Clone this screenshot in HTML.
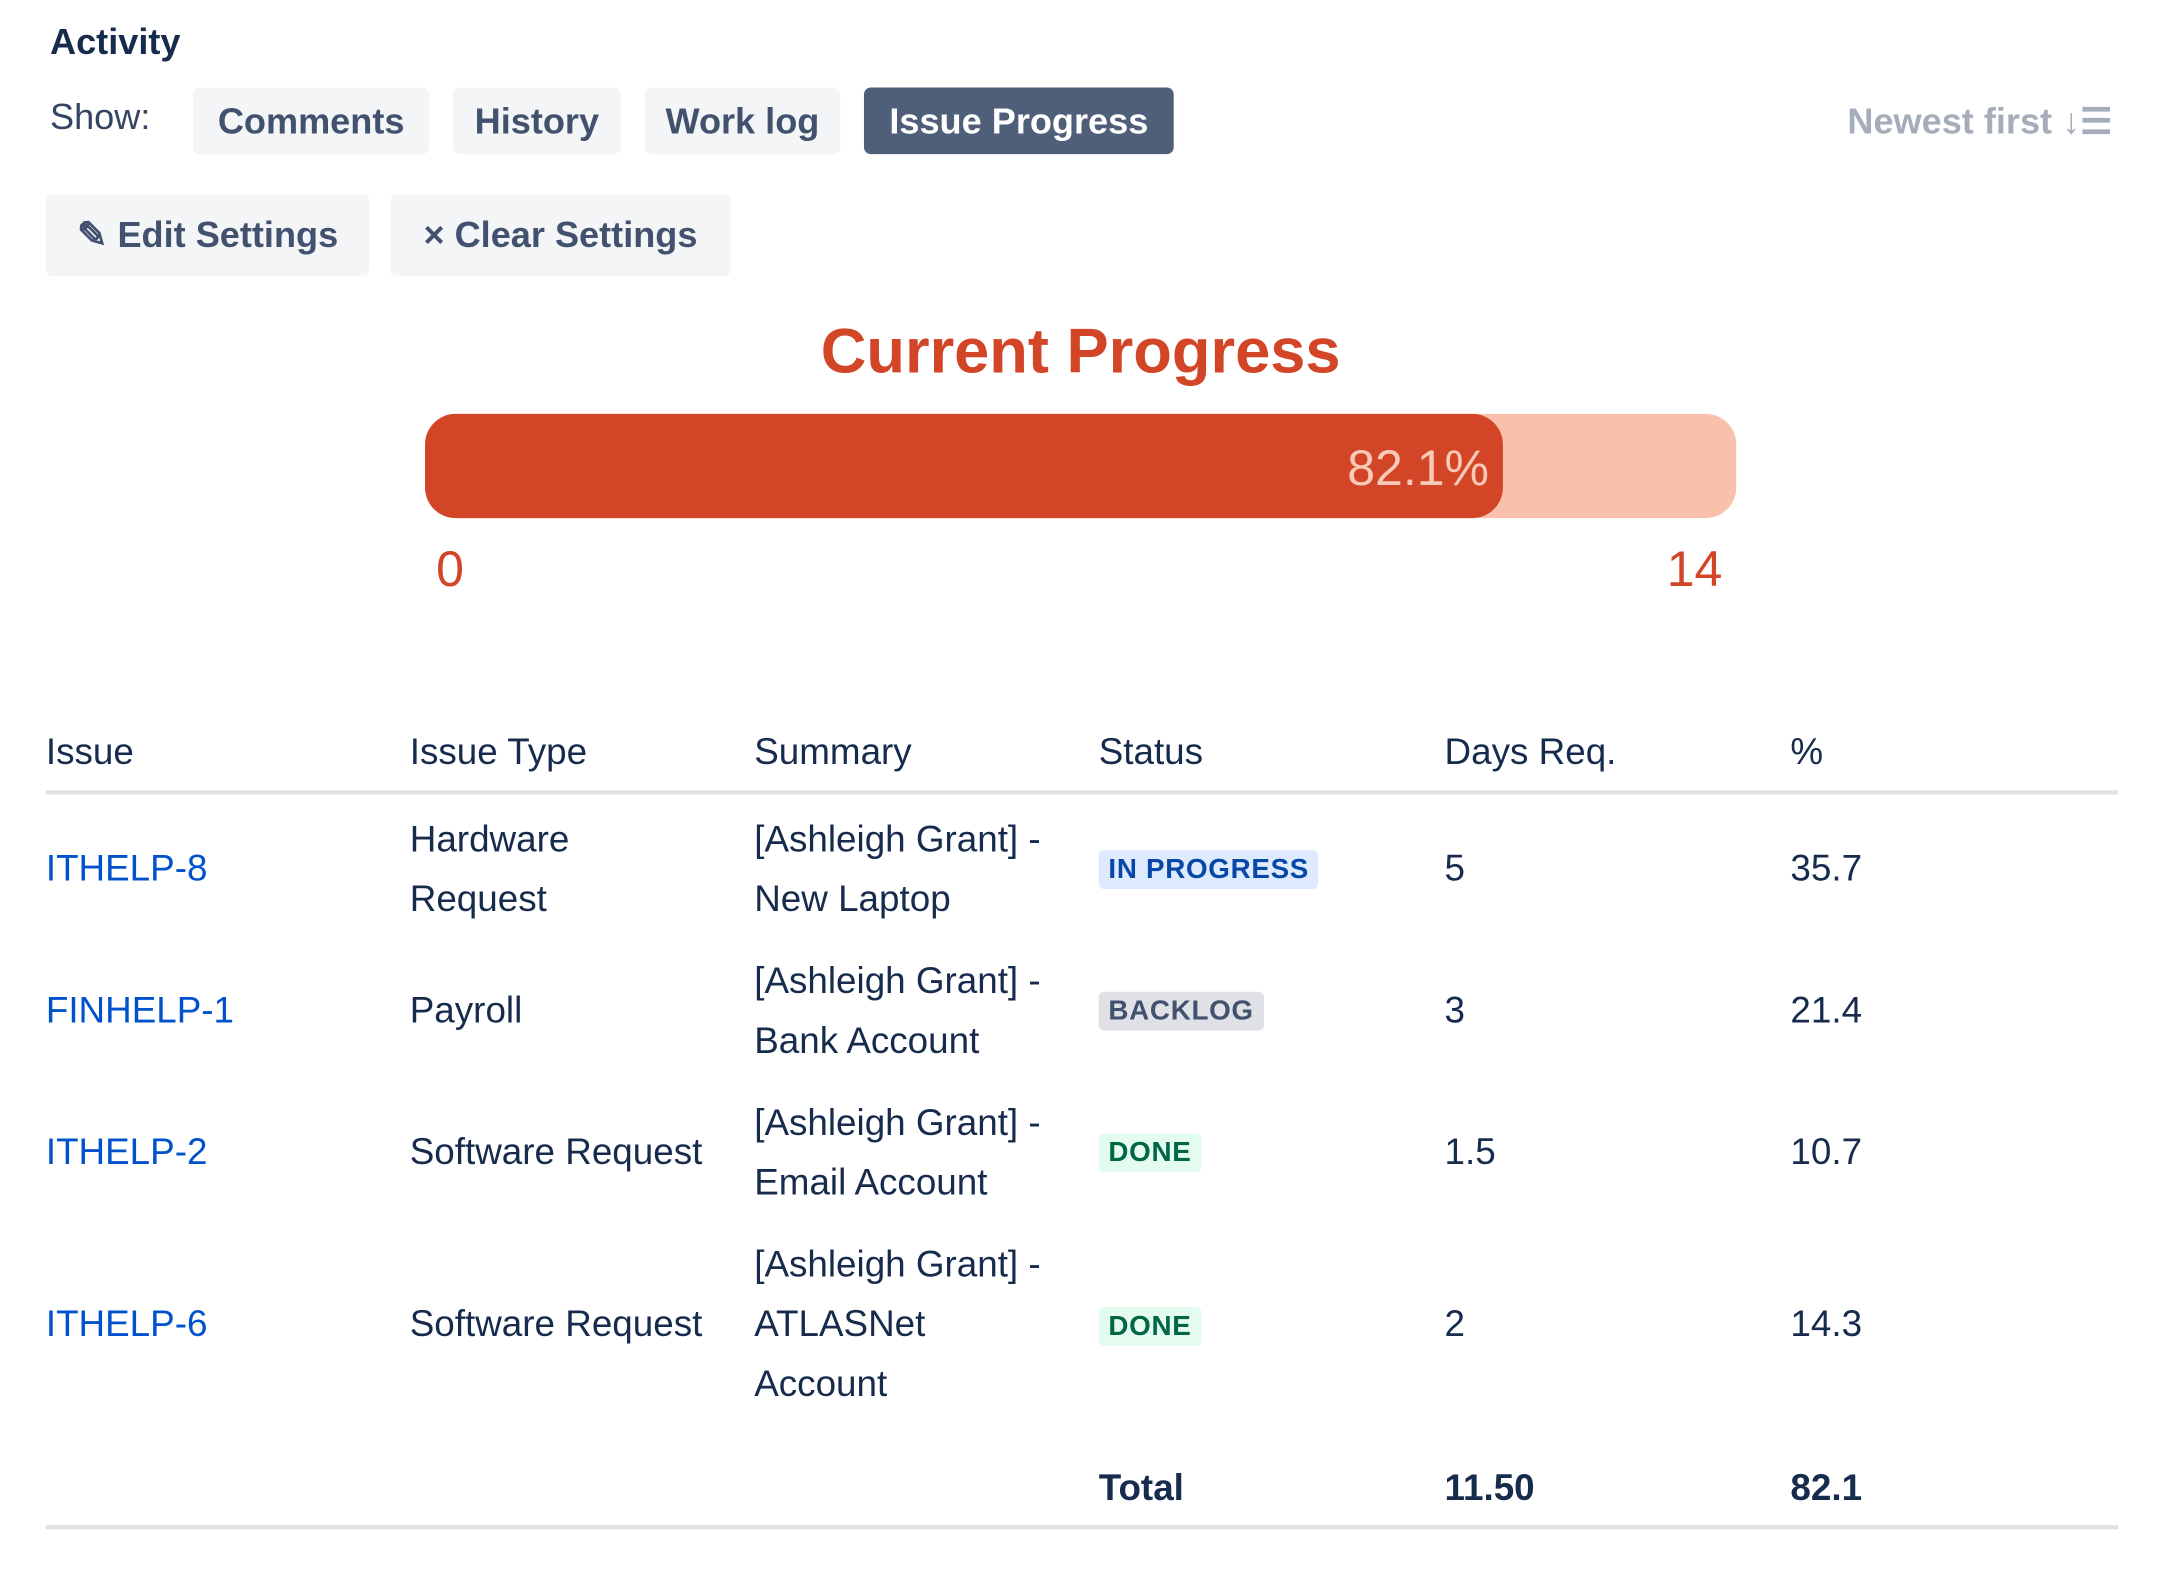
<!DOCTYPE html>
<html><head><meta charset="utf-8"><style>
html,body{margin:0;padding:0;background:#fff;overflow:hidden}
body{width:2178px;height:1576px}
#s{position:absolute;left:0;top:0;width:1570px;height:1135px;transform:scale(1.389);transform-origin:0 0;font-family:"Liberation Sans",sans-serif;color:#172b4d}
.a{position:absolute;white-space:nowrap}
.btn{position:absolute;background:#f4f5f7;border-radius:5px;color:#42526e;font-size:26px;font-weight:bold;display:flex;align-items:center;justify-content:center}
.t{position:absolute;font-size:26.5px;line-height:43px;white-space:nowrap;color:#172b4d}
.lk{color:#0052cc}
.lz{position:absolute;height:28px;border-radius:4px;font-weight:bold;font-size:20px;line-height:28px;padding:0 7px;letter-spacing:.5px}
</style></head><body><div id="s">
<div class="a" style="left:36px;top:15px;font-size:26px;font-weight:bold">Activity</div>
<div class="a" style="left:36px;top:69px;font-size:26px;color:#344563">Show:</div>
<div class="btn" style="left:139px;top:63px;width:170px;height:48px">Comments</div>
<div class="btn" style="left:326px;top:63px;width:121px;height:48px">History</div>
<div class="btn" style="left:464px;top:63px;width:141px;height:48px">Work log</div>
<div class="btn" style="left:622px;top:63px;width:223px;height:48px;background:#505f79;color:#fff">Issue Progress</div>
<div class="a" style="left:1330px;top:72px;font-size:26px;font-weight:bold;color:#a5adba">Newest first ↓<span style="letter-spacing:-3px">☰</span></div>
<div class="btn" style="left:33px;top:140px;width:233px;height:59px">✎ Edit Settings</div>
<div class="btn" style="left:281px;top:140px;width:245px;height:59px">× Clear Settings</div>
<div class="a" style="left:0;width:1556px;text-align:center;top:227px;font-size:45.5px;font-weight:bold;color:#d24526">Current Progress</div>
<div class="a" style="left:306px;top:298px;width:944px;height:75px;border-radius:22px;background:#f9c0ac"></div>
<div class="a" style="left:306px;top:298px;width:776px;height:75px;border-radius:22px;background:#d24526"></div>
<div class="a" style="left:900px;width:172px;text-align:right;top:316px;font-size:36px;color:#f9c9b8">82.1%</div>
<div class="a" style="left:314px;top:389px;font-size:36px;color:#d24526">0</div>
<div class="a" style="left:1140px;width:100px;text-align:right;top:389px;font-size:36px;color:#d24526">14</div>

<div class="t" style="left:33px;top:520px">Issue</div>
<div class="t" style="left:295px;top:520px">Issue Type</div>
<div class="t" style="left:543px;top:520px">Summary</div>
<div class="t" style="left:791px;top:520px">Status</div>
<div class="t" style="left:1040px;top:520px">Days Req.</div>
<div class="t" style="left:1289px;top:520px">%</div>
<div class="a" style="left:33px;top:569px;width:1492px;height:3px;background:#dfe1e6"></div>

<div class="t lk" style="left:33px;top:604px">ITHELP-8</div>
<div class="t" style="left:295px;top:583px">Hardware<br>Request</div>
<div class="t" style="left:543px;top:583px">[Ashleigh Grant] -<br>New Laptop</div>
<div class="lz" style="left:791px;top:612px;background:#deebff;color:#0747a6">IN PROGRESS</div>
<div class="t" style="left:1040px;top:604px">5</div>
<div class="t" style="left:1289px;top:604px">35.7</div>

<div class="t lk" style="left:33px;top:706px">FINHELP-1</div>
<div class="t" style="left:295px;top:706px">Payroll</div>
<div class="t" style="left:543px;top:685px">[Ashleigh Grant] -<br>Bank Account</div>
<div class="lz" style="left:791px;top:714px;background:#dfe1e6;color:#42526e">BACKLOG</div>
<div class="t" style="left:1040px;top:706px">3</div>
<div class="t" style="left:1289px;top:706px">21.4</div>

<div class="t lk" style="left:33px;top:808px">ITHELP-2</div>
<div class="t" style="left:295px;top:808px">Software Request</div>
<div class="t" style="left:543px;top:787px">[Ashleigh Grant] -<br>Email Account</div>
<div class="lz" style="left:791px;top:816px;background:#e3fcef;color:#006644">DONE</div>
<div class="t" style="left:1040px;top:808px">1.5</div>
<div class="t" style="left:1289px;top:808px">10.7</div>

<div class="t lk" style="left:33px;top:932px">ITHELP-6</div>
<div class="t" style="left:295px;top:932px">Software Request</div>
<div class="t" style="left:543px;top:889px">[Ashleigh Grant] -<br>ATLASNet<br>Account</div>
<div class="lz" style="left:791px;top:941px;background:#e3fcef;color:#006644">DONE</div>
<div class="t" style="left:1040px;top:932px">2</div>
<div class="t" style="left:1289px;top:932px">14.3</div>

<div class="t" style="left:791px;top:1050px;font-weight:bold">Total</div>
<div class="t" style="left:1040px;top:1050px;font-weight:bold">11.50</div>
<div class="t" style="left:1289px;top:1050px;font-weight:bold">82.1</div>
<div class="a" style="left:33px;top:1098px;width:1492px;height:3px;background:#dfe1e6"></div>
</div></body></html>
